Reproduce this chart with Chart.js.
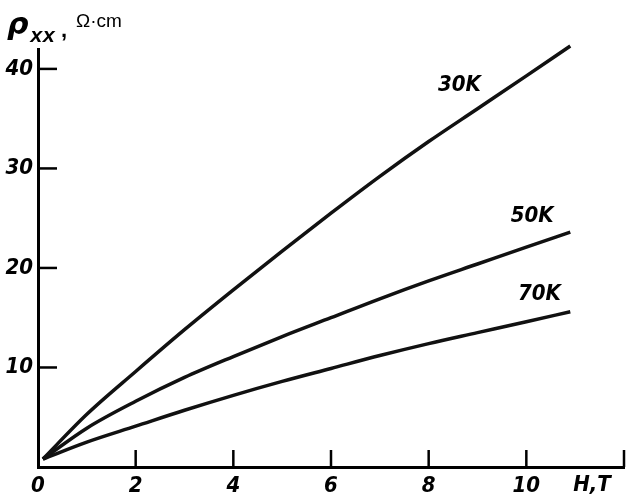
<!DOCTYPE html>
<html>
<head>
<meta charset="utf-8">
<script src="https://cdn.jsdelivr.net/npm/chart.js@4"></script>
<style>
  body { margin: 0; background: #fff; }
  canvas { display: block; }
</style>
</head>
<body>
<canvas id="rhoChart" width="630" height="497"></canvas>
<script>
'use strict';

// magnetic field, T
const fieldT = [0.1, 1, 2, 3, 4, 5, 6, 7, 8, 9, 10, 10.9];
// rho_xx, Ohm*cm for each temperature
const rho30K = [0.8, 5.3, 9.6, 13.8, 17.8, 21.7, 25.5, 29.2, 32.7, 36.0, 39.3, 42.3];
const rho50K = [0.8, 3.9, 6.6, 9.0, 11.1, 13.1, 15.0, 16.9, 18.7, 20.4, 22.1, 23.6];
const rho70K = [0.8, 2.5, 4.1, 5.7, 7.2, 8.6, 9.9, 11.2, 12.4, 13.5, 14.6, 15.6];

const xTicks = [0, 2, 4, 6, 8, 10, 12];
const yTicks = [10, 20, 30, 40];
const curveNames = ['30K', '50K', '70K'];
// where the curve names sit, in data units
const namePos = [[8.63, 38.4], [10.12, 25.2], [10.27, 17.4]];

const fontFamily = '"Liberation Sans Narrow", "DejaVu Sans Condensed", sans-serif';
const labelFont = 'italic bold 22px ' + fontFamily;

function toPoints(ys){
    const pts = [];
    for (let i = 0; i < fieldT.length; i++){
        pts.push({x: fieldT[i], y: ys[i]});
    }
    return pts;
}

function makeSet(name, ys){
    return {
        label: name,
        data: toPoints(ys),
        borderColor: '#111',
        borderWidth: 3.5,
        pointRadius: 0,
        cubicInterpolationMode: 'monotone',
        fill: false,
        clip: false
    };
}

// inner ticks, curve names and axis captions
const extras = {
    id: 'extras',
    afterDraw(chart){
        const ctx = chart.ctx;
        const xs = chart.scales.x;
        const ys = chart.scales.y;
        const area = chart.chartArea;
        ctx.save();
        ctx.strokeStyle = '#000';
        ctx.lineWidth = 2.5;
        for (let i = 0; i < yTicks.length; i++){
            const y = ys.getPixelForValue(yTicks[i]);
            ctx.beginPath();
            ctx.moveTo(area.left, y);
            ctx.lineTo(area.left + 19, y);
            ctx.stroke();
        }
        for (let i = 1; i < xTicks.length; i++){
            const x = xs.getPixelForValue(xTicks[i]);
            ctx.beginPath();
            ctx.moveTo(x, area.bottom);
            ctx.lineTo(x, area.bottom - 17);
            ctx.stroke();
        }

        ctx.fillStyle = '#000';
        ctx.font = labelFont;
        ctx.textAlign = 'center';
        ctx.textBaseline = 'middle';
        for (let i = 0; i < curveNames.length; i++){
            ctx.fillText(curveNames[i], xs.getPixelForValue(namePos[i][0]), ys.getPixelForValue(namePos[i][1]));
        }
        ctx.fillText('H,T', 592, 485);

        ctx.textAlign = 'left';
        ctx.textBaseline = 'alphabetic';
        ctx.font = 'bold italic 30px "DejaVu Sans", sans-serif';
        ctx.fillText('\u03c1', 7, 34);
        ctx.font = 'bold italic 21px "Liberation Mono", "DejaVu Sans Mono", monospace';
        ctx.fillText('xx', 30, 42);
        ctx.font = 'bold 22px "Liberation Sans", sans-serif';
        ctx.fillText(',', 61, 37);
        ctx.font = '19px "Liberation Sans", Arial, sans-serif';
        ctx.fillText('\u03a9\u00b7cm', 76, 27);
        ctx.restore();
    }
};

const canvas = document.getElementById('rhoChart');
const context = canvas.getContext('2d');

const chart = new Chart(
    context,
    {
        type: 'line',
        data: {
            datasets: [
                makeSet(curveNames[0], rho30K),
                makeSet(curveNames[1], rho50K),
                makeSet(curveNames[2], rho70K)
            ]
        },
        options: {
            responsive: false,
            animation: false,
            layout: {
                padding: {top: 49, right: 5, left: 0, bottom: 0}
            },
            plugins: {
                legend: {display: false},
                tooltip: {enabled: false}
            },
            scales: {
                x: {
                    type: 'linear',
                    min: 0,
                    max: 12,
                    grid: {display: false, drawTicks: false},
                    border: {color: '#000', width: 3},
                    afterBuildTicks: function(scale){
                        scale.ticks = xTicks.map(function(v){ return {value: v}; });
                    },
                    afterFit: function(scale){
                        scale.height = 30;
                    },
                    ticks: {
                        color: '#000',
                        padding: 6,
                        maxRotation: 0,
                        font: {family: fontFamily, size: 22, style: 'italic', weight: 'bold'},
                        callback: function(v){
                            return v === 12 ? '' : String(v);
                        }
                    }
                },
                y: {
                    type: 'linear',
                    min: 0,
                    max: 42,
                    grid: {display: false, drawTicks: false},
                    border: {color: '#000', width: 3},
                    afterBuildTicks: function(scale){
                        scale.ticks = yTicks.map(function(v){ return {value: v}; });
                    },
                    afterFit: function(scale){
                        scale.width = 38;
                    },
                    ticks: {
                        color: '#000',
                        padding: 5,
                        font: {family: fontFamily, size: 22, style: 'italic', weight: 'bold'}
                    }
                }
            }
        },
        plugins: [extras]
    }
);
</script>
</body>
</html>
